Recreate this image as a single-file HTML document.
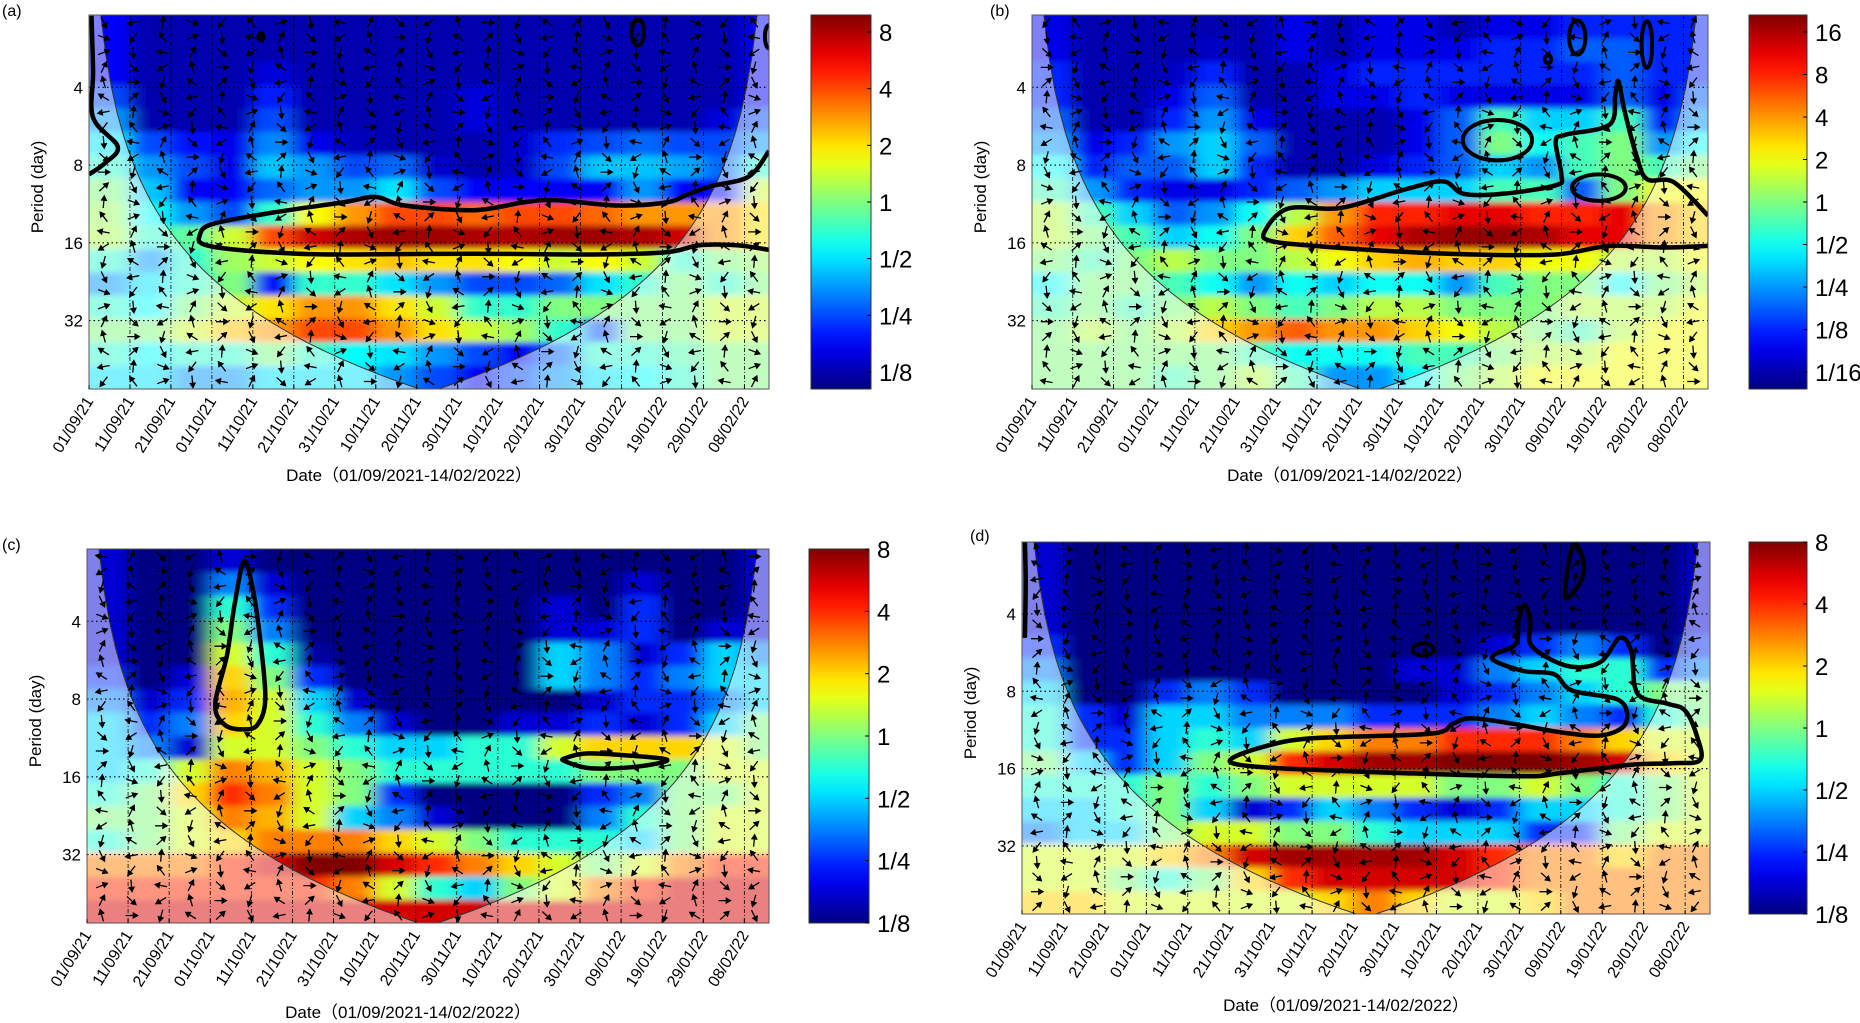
<!DOCTYPE html>
<html><head><meta charset="utf-8">
<style>
html,body{margin:0;padding:0;background:#fff;}
svg{display:block;font-family:"Liberation Sans","Noto Sans CJK SC",sans-serif;}
</style></head>
<body>
<svg id="fig" width="1860" height="1023" viewBox="0 0 1860 1023" xmlns="http://www.w3.org/2000/svg">
<defs>
<filter id="blur" x="-5%" y="-5%" width="110%" height="110%"><feGaussianBlur stdDeviation="9 3"/></filter>
</defs>
</svg>
<script>
// ---------- shared data ----------
const dateLabels=['01/09/21','11/09/21','21/09/21','01/10/21','11/10/21','21/10/21','31/10/21','10/11/21','20/11/21','30/11/21','10/12/21','20/12/21','30/12/21','09/01/22','19/01/22','29/01/22','08/02/22'];
const dateDays=[0,10,20,30,40,50,60,70,80,90,100,110,120,130,140,150,160];
const periodTicks=[4,8,16,32];
const cbLabelsA=['8','4','2','1','1/2','1/4','1/8'];
const cbValsA=[3,2,1,0,-1,-2,-3];
const cbLabelsB=['16','8','4','2','1','1/2','1/4','1/8','1/16'];
const cbValsB=[4,3,2,1,0,-1,-2,-3,-4];
// log2 power, rows top (short period) -> bottom (long period), 17 ten-day columns
const valsA=[
[-2.5,-3,-3,-3,-3,-3,-3,-3,-3,-3,-3,-3,-3,-3,-3,-3,-2.5],
[-2.5,-3,-3,-3,-3,-3,-3,-3,-3,-3,-3,-3,-3,-3,-3,-3,-2.5],
[-2.5,-3,-3,-3,-2.7,-3,-3,-3,-3,-3,-3,-3,-3,-3,-3,-3,-2.5],
[-2,-3,-3,-3,-2.3,-3,-3,-3,-3,-2.7,-3,-3,-3,-3,-3,-3,-2.5],
[-1.5,-3,-3,-3,-2,-3,-3,-3,-3,-2.7,-3,-3,-3,-3,-3,-2.7,-2],
[-1,-2,-2.4,-2.6,-1.6,-2.6,-2.9,-3,-3,-3,-2.8,-2.2,-2,-1.8,-2,-2,-1.5],
[-0.5,-1.5,-2,-2.6,-1.2,-1.5,-2,-1.8,-2.8,-3,-2.8,-2,-1.2,-1.2,-1.4,-1.8,-0.5],
[0,-1.2,-2.5,-2.5,-1.8,-1.5,-1.5,-1,-2,-2.5,-2.5,-2.5,-2.5,-1.5,-2.5,-2.4,0.5],
[0.2,-0.8,-1.5,-2,-0.5,0.8,1.5,2,2,1.8,2,2,1.8,1.5,1.5,1.5,1],
[0.3,-0.5,-0.2,0.5,2,2.8,3,3.1,3.1,3,3,3.1,3.1,3,2.8,1.5,1],
[-0.5,-1.5,-0.5,0.2,0.5,0.8,1,1.2,1,1,0.8,0.5,0.8,0.5,-0.5,0,0.2],
[-1.5,-1,-0.5,0,-2.5,-0.5,-0.5,-1,-1.5,-2,-2,-1.8,-1,-0.5,0,-0.5,0],
[-0.5,-0.8,0,0.5,1,1.5,1.5,1,0.5,-0.5,-0.5,0,0,0,0,0.5,0.5],
[0,0,0.5,1.2,1.5,2,2,1.5,1,0.5,0.2,-0.5,-2,0,0,0.5,0.5],
[-0.5,-0.8,-0.5,-0.5,0,-0.5,-0.8,-1,-1.5,-2,-2.5,-1.8,-0.5,-0.5,-0.3,0,0],
[-1,-1,-1.5,-1.5,-1,-1,-1,-1.5,-2,-2.5,-2,-1.5,-1,-0.8,-0.5,0,0]];
const valsB=[
[-3.5,-4,-4,-4,-4,-4,-3.5,-4,-3.5,-3.5,-4,-3.5,-3.5,-3,-3,-3,-3],
[-3.5,-4,-4,-4,-3.8,-4,-3.5,-4,-3.5,-3.5,-3.5,-3,-3,-2.5,-2.5,-3,-3],
[-3,-4,-4,-3.8,-3,-4,-4,-3.5,-3,-3,-3,-3,-3,-3,-2.5,-3,-3],
[-3,-4,-4,-3.5,-2.5,-4,-4,-3.5,-3.5,-3,-3.5,-3.5,-3.5,-3.5,-2.5,-3.5,-2.5],
[-2.5,-4,-4,-3,-2,-3.5,-4,-4,-4,-3.5,-2.5,-0.5,-1.5,-1.5,-0.5,-3,-2],
[-2,-3.5,-3,-2,-1.5,-2.5,-4,-4,-4,-3.5,-2.5,0,-1,-0.5,0,-2,-1],
[-1,-3,-2.5,-2.5,-1.5,-3,-4,-4,-3.5,-3,-2.5,-1.5,-2,-0.5,0,-0.5,0],
[-0.5,-2,-3,-3.5,-3.5,-3,-2.5,-2,-1.5,-1.5,-1.5,-0.5,-0.5,-2.5,0,1,1],
[0.5,-0.5,-1.5,-2.5,-2,-1,0.5,2,3,3,3.5,3.5,3,3,3.5,2,1.5],
[0.5,0,-0.5,-1.5,-1,0,1.5,2.5,3.5,4,4.2,4.2,4,3.5,3.5,2,1.5],
[0,-0.5,0,0.5,0,0,0.5,1,1.5,1.8,1.5,1.5,1,1,0.5,0.5,1],
[-1,0,0,-0.5,-1,-2,-1,-1.5,-1,-1,-2,-0.5,0,0,-1,0,0.5],
[-0.5,0,-0.5,0,0.5,0,-0.5,0,0.5,0.5,0,0,0,0.5,0.5,0.5,1],
[0,0.5,0,0.5,1.5,2,2.5,2,2,1.5,1,0.5,0,-0.5,0.5,1,1],
[0,0,0,0,0,-0.5,-1,-1,-1,-0.5,-0.5,0,0.5,0.5,1,1,1],
[0,0,0,-0.5,0,0.5,-0.5,-2,-2,-1,0,0.5,1,1,1,1,1]];
const valsC=[
[-2.5,-3,-3,-2.5,-3,-3,-3,-3,-3,-3,-3,-3,-3,-3,-3,-3,-2.5],
[-2.5,-3,-3,-1.5,-2.5,-3,-3,-3,-3,-3,-3,-3,-3,-2.5,-3,-3,-2.5],
[-2.5,-3,-3,-0.5,-2,-3,-3,-3,-3,-3,-3,-2.5,-3,-2,-3,-3,-2.5],
[-2.5,-3,-3,0,-1.5,-3,-3,-3,-3,-3,-3,-2.5,-2.5,-2,-3,-2.5,-2.5],
[-2.5,-3,-3,0.5,-0.5,-2.8,-3,-3,-3,-3,-3,-1,-1.5,-2.5,-2,-1,-1.5],
[-2,-3,-2.5,1,0,-2,-3,-3,-3,-3,-3,-1,-1.5,-2,-1.5,-1,-1],
[-1.5,-2.5,-2,1.2,0.5,-1,-2.5,-3,-3,-3,-3,-3,-2.5,-2,-2,-1.5,-1],
[-1,-2,-1.5,1,0.5,-0.5,-1.5,-2.5,-3,-3,-2.5,-2.5,-2,-2.5,-2,-1,0],
[-1,-1.5,-2.5,0.5,0.5,0,-0.5,-1,-1,-0.5,-0.5,0.5,1,1,1,0.5,0],
[-1,-0.5,0.5,1.5,1.2,0.5,0,-0.5,-0.5,-0.5,-0.5,-0.5,0,0,0,0.5,0.5],
[-0.5,0,1,2,1.5,0.5,0,-2,-3,-3,-3,-3,-2,-1.5,0,0,0.5],
[0,0,0.5,1.5,1.2,0.5,-1,-1.5,-2.5,-3,-3,-3,-1.5,-0.5,0,0.5,0.5],
[-0.5,0,0.5,1,1.5,1.5,1.5,1,0.5,0,-0.5,-0.5,-0.5,-1,0,0.5,0.5],
[1.5,1.5,1.5,2,2.5,3,3,2.5,2,1.5,1,0.5,0,0.5,1.5,2,2],
[2,2,2,2,2,2,1.5,0.5,-0.5,-1,0,0.5,1.5,2,2.5,2.5,2.5],
[2.5,2.5,2.5,2.5,2.5,2.5,2.5,2.5,2.5,2.5,2.5,2.5,2.5,2.5,2.5,2.5,2.5]];
const valsD=[
[-2.5,-3,-3,-3,-3,-3,-3,-3,-3,-3,-3,-3,-3,-3,-3,-3,-2.5],
[-2.5,-3,-3,-3,-3,-3,-3,-3,-3,-3,-3,-3,-3,-3,-3,-3,-2.5],
[-2.5,-3,-3,-3,-3,-3,-3,-3,-3,-3,-3,-3,-3,-3,-3,-3,-2.5],
[-2.5,-3,-3,-3,-3,-3,-3,-3,-3,-3,-3,-3,-3,-3,-3,-3,-2.5],
[-2,-3,-3,-3,-3,-3,-3,-3,-3,-3,-3,-2.5,-2,-1.5,-2,-3,-2],
[-1.5,-3,-3,-3,-3,-3,-3,-3,-3,-2.5,-2.5,-1.5,-1,-0.5,-0.5,-2,-1.5],
[-1,-3,-3,-2,-1.5,-2,-3,-3,-3,-3,-2.5,-2,-1.5,-1,-0.5,0,0],
[-0.5,-2,-2.5,-1,-1,-1.5,-1.5,-1.5,-2,-2,-2,-1.5,-1,-1.5,-2,-0.5,0],
[-0.5,-2,-2,-1,-0.5,-1,0.5,1,1.5,1.5,2,2,2,1.5,1,0.5,0.5],
[0,-1,-2,-1,0,0.5,2,2.5,2.8,2.8,3,3,3,2.8,2.5,1,0.5],
[-0.5,-0.5,-0.5,0,-0.5,0,0.5,0.5,0.5,0.5,0,0,0.5,0,-0.5,0,0.5],
[-1,-1,-0.5,0,-1,-2.5,-2,-1,-1.5,-2,-2.5,-2,-1,-1,-0.5,0,0.5],
[-1.5,-1,-1,0,0.5,0.5,0,0,-0.5,-1,-1,-1,-2,-2,0,0.5,0.5],
[0.5,0.5,0.5,1,1.5,2.5,2.8,2.8,2.8,2.8,2.5,2,1.5,1.5,1,1.5,1.5],
[0.5,0.5,0,-0.5,0,1,2,2.5,2.5,2.5,2.5,2,1.5,1.5,1.5,1.5,1.5],
[1,1,0.5,0.5,0.5,0.5,0.5,1,1.5,1,0.5,0.5,1,1.5,1.5,1.5,1.5]];
// contours: [day, log2(period)]
const contA1=[[166,2.82],[161,3.15],[152,3.27],[146,3.38],[141,3.48],[129,3.52],[114,3.45],[106,3.48],[94,3.58],[77,3.52],[70,3.41],[62,3.48],[45,3.61],[30,3.76],[27,3.91],[28,4.02],[36,4.09],[51,4.14],[65,4.15],[94,4.14],[123,4.15],[141,4.12],[149,4.03],[158,4.03],[166,4.09]];
const contA2=[[0.6,1.08],[1,1.79],[1,2.39],[7,2.76],[4,2.97],[0,3.12]];
const ellA=[[134,1.29,1.5,0.17],[42,1.35,0.6,0.05],[166,1.35,1,0.15]];
const contB1=[[166,3.65],[157.6,3.22],[151,3.18],[148.4,2.87],[145.5,2.3],[144.4,2.0],[143.8,1.92],[143.2,2.1],[141.8,2.48],[131,2.61],[128.6,2.7],[130,3.13],[128.6,3.26],[115.5,3.37],[106,3.37],[101,3.21],[91.8,3.31],[76,3.55],[62.8,3.56],[57,3.87],[59,3.98],[69.4,4.04],[89,4.11],[108.9,4.15],[128.6,4.15],[141.8,4.04],[155,4.06],[166,4.04]];
const ellB=[[114.3,2.68,8.5,0.26],[139.2,3.29,6.6,0.17],[133.9,1.36,2,0.22],[151,1.45,1.3,0.3],[126.7,1.64,0.8,0.05]];
const contC1=[[38.2,1.23],[40.3,1.57],[42.1,2.21],[43.4,2.99],[41.5,3.33],[37.8,3.39],[33.5,3.33],[31.2,3.07],[34.1,2.43],[35.9,1.79]];
const contC2=[[116.4,3.76],[121.4,3.70],[130,3.72],[141.2,3.78],[133.8,3.87],[122.6,3.89],[116.4,3.80]];
const contD1=[[50.6,3.87],[58.1,3.72],[69.6,3.61],[98.3,3.55],[104,3.42],[108.3,3.35],[118.4,3.42],[129.9,3.53],[139.9,3.57],[145.6,3.42],[144.2,3.12],[132.7,2.99],[128.4,2.78],[121.2,2.74],[114.1,2.61],[114.1,2.52],[119.1,2.39],[119.8,2.09],[121.2,1.88],[122.7,2.09],[122.7,2.39],[128.4,2.61],[134.2,2.69],[139.9,2.61],[144.2,2.31],[147,2.48],[148.5,3.03],[155.7,3.16],[160,3.25],[162.9,3.59],[163.6,3.89],[157.1,3.93],[147,3.95],[129.9,4.06],[121.2,4.10],[92.6,4.06],[63.8,4.0],[52.3,3.95]];
const contD2=[[133.4,1.09],[135.5,1.33],[134.8,1.58],[131.2,1.79],[131.9,1.33]];
const contD3=[[0.7,1.07],[0.9,1.6],[0.7,2.31]];
const ellD=[[96.8,2.46,2.5,0.08]];

// ---------- helpers ----------
const NS='http://www.w3.org/2000/svg';
const svg=document.getElementById('fig');
const DAYS=166, LTOP=1.07, LBOT=5.88;
function el(tag,attrs,parent){const e=document.createElementNS(NS,tag);for(const k in attrs)e.setAttribute(k,attrs[k]);(parent||svg).appendChild(e);return e;}
function jet(t){t=Math.max(0,Math.min(1,t));const c=v=>Math.round(255*Math.max(0,Math.min(1,v)));
 return `rgb(${c(1.5-Math.abs(4*t-3))},${c(1.5-Math.abs(4*t-2))},${c(1.5-Math.abs(4*t-1))})`;}
function smooth(pts,closed){
 const n=pts.length;let d=`M${pts[0][0].toFixed(1)},${pts[0][1].toFixed(1)}`;
 const g=i=>closed?pts[(i+n)%n]:pts[Math.max(0,Math.min(n-1,i))];
 const m=closed?n:n-1;
 for(let i=0;i<m;i++){const p0=g(i-1),p1=g(i),p2=g(i+1),p3=g(i+2);
  const c1=[p1[0]+(p2[0]-p0[0])/6,p1[1]+(p2[1]-p0[1])/6],c2=[p2[0]-(p3[0]-p1[0])/6,p2[1]-(p3[1]-p1[1])/6];
  d+=`C${c1[0].toFixed(1)},${c1[1].toFixed(1)} ${c2[0].toFixed(1)},${c2[1].toFixed(1)} ${p2[0].toFixed(1)},${p2[1].toFixed(1)}`;}
 return d+(closed?'Z':'');}

function panel(P){
 const g=el('g',{});
 
 
 const X=d=>P.x0+d/DAYS*(P.x1-P.x0);
 const Y=l=>P.y0+(l-LTOP)/(LBOT-LTOP)*(P.y1-P.y0);
 const cid='clip'+P.id;
 const cp=el('clipPath',{id:cid},g);el('rect',{x:P.x0,y:P.y0,width:P.x1-P.x0,height:P.y1-P.y0},cp);
 const inner=el('g',{'clip-path':`url(#${cid})`},g);
 const hm=el('g',{filter:'url(#blur)'},inner);
 
 
 const rows=P.vals.length, cols=P.vals[0].length, dl=(LBOT-LTOP)/rows;
 for(let r=0;r<rows;r++)for(let c=0;c<cols;c++){
  let xa=X(c*10), xb=X(Math.min(DAYS,c*10+10)), ya=Y(LTOP+r*dl), yb=Y(LTOP+(r+1)*dl);
  if(c===0)xa-=30; if(c===cols-1)xb+=30; if(r===0)ya-=30; if(r===rows-1)yb+=30;
  const t=(P.vals[r][c]-P.vmin)/(P.vmax-P.vmin);
  const rc=el('rect',{x:xa.toFixed(1),y:ya.toFixed(1),width:(xb-xa+0.6).toFixed(1),height:(yb-ya+0.6).toFixed(1),fill:jet(t)},hm);
  
  
 }
 // cone of influence overlay
 let coi=`M${P.x0-2},${P.y0-2}`;
 const N=120;
 for(let i=0;i<=N;i++){const d=i/N*DAYS;const e=Math.max(0.3,Math.min(d,DAYS-d));const l=Math.log2(0.73*e);coi+=`L${X(d).toFixed(1)},${Y(Math.max(LTOP-0.5,Math.min(LBOT+0.5,l))).toFixed(1)}`;}
 coi+=`L${P.x1+2},${P.y0-2}L${P.x1+2},${P.y1+2}L${P.x0-2},${P.y1+2}Z`;
 const co=el('path',{d:coi,fill:'rgba(255,255,255,0.5)','fill-rule':'evenodd'},inner);
 
 
 let line='';for(let i=0;i<=N;i++){const d=i/N*DAYS;const e=Math.max(0.3,Math.min(d,DAYS-d));const l=Math.log2(0.73*e);line+=(i?'L':'M')+X(d).toFixed(1)+','+Y(Math.max(LTOP-0.5,Math.min(LBOT+0.5,l))).toFixed(1);}
 const cl=el('path',{d:line,fill:'none',stroke:'#333','stroke-width':1},inner);
 
 
 // grid lines
 periodTicks.forEach(p=>{const y=Y(Math.log2(p));const ln=el('line',{x1:P.x0,x2:P.x1,y1:y,y2:y,stroke:'#000','stroke-width':1.2,'stroke-dasharray':'1.5,3'},inner);
  
  });
 dateDays.forEach(d=>{const x=X(d);const ln=el('line',{x1:x,x2:x,y1:P.y0,y2:P.y1,stroke:'#000','stroke-width':0.8,'stroke-dasharray':'4,2,1,2'},inner);
  
  });
 // phase arrows (texture)
 const ag=el('g',{stroke:'#000','stroke-width':1.3,fill:'#000'},inner);
 
 
 const AC=23, AR=25;
 for(let i=0;i<AC;i++)for(let j=0;j<AR;j++){
  const cx=P.x0+(i+0.5)*(P.x1-P.x0)/AC, cy=P.y0+(j+0.5)*(P.y1-P.y0)/AR;
  const h=((i*73+j*151+P.seed*37)%17)/17; const a=h*Math.PI*2;
  const L=6, dx=Math.cos(a)*L, dy=Math.sin(a)*L;
  const ar=el('path',{d:`M${(cx-dx).toFixed(1)},${(cy-dy).toFixed(1)}L${(cx+dx).toFixed(1)},${(cy+dy).toFixed(1)}M${(cx+dx).toFixed(1)},${(cy+dy).toFixed(1)}L${(cx+dx*0.3-dy*0.4).toFixed(1)},${(cy+dy*0.3+dx*0.4).toFixed(1)}L${(cx+dx*0.3+dy*0.4).toFixed(1)},${(cy+dy*0.3-dx*0.4).toFixed(1)}Z`},ag);
  
  
 }
 // contours
 P.conts.forEach(c=>{const pts=c.pts.map(p=>[X(p[0]),Y(p[1])]);
  const pa=el('path',{d:smooth(pts,c.closed),fill:'none',stroke:'#000','stroke-width':4.5,'stroke-linejoin':'round'},inner);
  
  });
 P.ells.forEach(e=>{const cx=X(e[0]),cy=Y(e[1]);const rx=X(e[0]+e[2])-cx,ry=Y(e[1]+e[3])-cy;
  const ee=el('ellipse',{cx,cy,rx,ry,fill:'none',stroke:'#000','stroke-width':4},inner);
  
  });
 // frame
 const fr=el('rect',{x:P.x0,y:P.y0,width:P.x1-P.x0,height:P.y1-P.y0,fill:'none',stroke:'#555','stroke-width':1},g);
 
 
 // y ticks
 periodTicks.forEach(p=>{const y=Y(Math.log2(p));
  const t=el('text',{x:P.x0-6,y:y+6,'text-anchor':'end','font-size':17},g);t.textContent=p;
  
  });
 const yl=el('text',{x:0,y:0,transform:`translate(${P.x0-46},${(P.y0+P.y1)/2-15}) rotate(-90)`,'text-anchor':'middle','font-size':17},g);
 yl.textContent='Period (day)';
 
 
 // x ticks
 dateLabels.forEach((s,i)=>{const x=X(dateDays[i]);if(dateDays[i]>DAYS)return;
  const tk=el('line',{x1:x,x2:x,y1:P.y1,y2:P.y1-4,stroke:'#000'},g);
  
  
  const t=el('text',{x:0,y:0,transform:`translate(${x+5},${P.y1+12}) rotate(-58)`,'text-anchor':'end','font-size':16},g);t.textContent=s;
  
  });
 const xt=el('text',{x:(P.x0+P.x1)/2-20,y:P.xtY,'text-anchor':'middle','font-size':17},g);
 xt.textContent='Date（01/09/2021-14/02/2022）';
 
 
 const lt=el('text',{x:P.lx,y:P.ly,'font-size':16},g);lt.textContent='('+P.id+')';
 
 
 // colorbar
 const gid='grad'+P.id;const gr=el('linearGradient',{id:gid,x1:0,y1:1,x2:0,y2:0},g);
 for(let k=0;k<=20;k++){el('stop',{offset:k/20,'stop-color':jet(k/20)},gr);}
 const cb=el('rect',{x:P.cbx,y:P.y0,width:P.cbw,height:P.y1-P.y0,fill:`url(#${gid})`,stroke:'#333','stroke-width':1},g);
 
 
 const CY=v=>P.y1-(v-P.cmin)/(P.cmax-P.cmin)*(P.y1-P.y0);
 P.cbLabels.forEach((s,i)=>{const y=CY(P.cbVals[i]);
  const tk=el('line',{x1:P.cbx+P.cbw,x2:P.cbx+P.cbw-4,y1:y,y2:y,stroke:'#000'},g);
  
  
  const t=el('text',{x:P.cbx+P.cbw+8,y:y+9,'font-size':24},g);t.textContent=s;
  
  });
}

panel({id:'a',seed:1,x0:89,x1:769,y0:15,y1:389,vals:valsA,vmin:-3.3,vmax:3.3,cmin:-3.3,cmax:3.3,
 conts:[{pts:contA1,closed:false},{pts:contA2,closed:false}],ells:ellA,cbx:811,cbw:60,cbLabels:cbLabelsA,cbVals:cbValsA,xtY:481,lx:2,ly:16});
panel({id:'b',seed:2,x0:1032,x1:1708,y0:15,y1:389,vals:valsB,vmin:-4.4,vmax:4.4,cmin:-4.4,cmax:4.4,
 conts:[{pts:contB1,closed:false}],ells:ellB,cbx:1749,cbw:58,cbLabels:cbLabelsB,cbVals:cbValsB,xtY:481,lx:990,ly:16});
panel({id:'c',seed:3,x0:87,x1:769,y0:549,y1:923,vals:valsC,vmin:-3,vmax:3,cmin:-3,cmax:3,
 conts:[{pts:contC1,closed:true},{pts:contC2,closed:true}],ells:[],cbx:809,cbw:60,cbLabels:cbLabelsA,cbVals:cbValsA,xtY:1018,lx:2,ly:550});
panel({id:'d',seed:4,x0:1022,x1:1710,y0:542,y1:914,vals:valsD,vmin:-3,vmax:3,cmin:-3,cmax:3,
 conts:[{pts:contD1,closed:true},{pts:contD2,closed:true},{pts:contD3,closed:false}],ells:ellD,cbx:1749,cbw:58,cbLabels:cbLabelsA,cbVals:cbValsA,xtY:1011,lx:970,ly:541});
</script>
</body></html>
